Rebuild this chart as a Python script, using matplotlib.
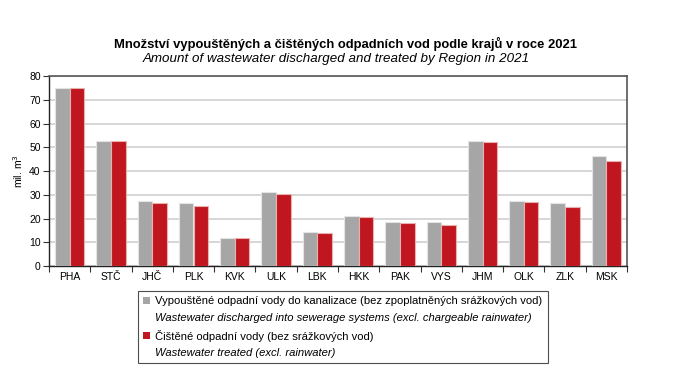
import matplotlib
matplotlib.use("Agg")
import matplotlib.pyplot as plt
import numpy as np
from matplotlib.patches import Patch

plt.rcParams['font.family'] = ['Liberation Sans', 'DejaVu Sans']

regions = ["PHA", "STČ", "JHČ", "PLK", "KVK", "ULK", "LBK", "HKK", "PAK", "VYS", "JHM", "OLK", "ZLK", "MSK"]
discharged = [74.9, 52.5, 27.4, 26.4, 11.9, 31.2, 14.5, 21.0, 18.4, 18.4, 52.8, 27.4, 26.7, 46.5]
treated = [75.0, 52.5, 26.4, 25.3, 12.0, 30.2, 14.1, 20.5, 18.0, 17.1, 52.2, 27.1, 24.9, 44.2]

title_cz = "Množství vypouštěných a čištěných odpadních vod podle krajů v roce 2021"
title_en = "Amount of wastewater discharged and treated by Region in 2021"
label_dis_cz = "Vypouštěné odpadní vody do kanalizace (bez zpoplatněných srážkových vod)"
label_dis_en = "Wastewater discharged into sewerage systems (excl. chargeable rainwater)"
label_tr_cz = "Čištěné odpadní vody (bez srážkových vod)"
label_tr_en = "Wastewater treated (excl. rainwater)"

c_gray = "#a6a6a6"
c_red = "#c0161f"

fig = plt.figure(figsize=(6.74, 3.92), dpi=100)
ax = fig.add_axes([49/674, 1-266/392, (627-49)/674, 190/392])

x = np.arange(len(regions))
w = 0.355
ax.bar(x - w/2, discharged, w, color=c_gray, edgecolor="#e4e4e4", linewidth=0.8, zorder=3)
ax.bar(x + w/2, treated, w, color=c_red, edgecolor="#e8b0b0", linewidth=0.8, zorder=3)

ax.set_xlim(-0.5, len(regions) - 0.5)
ax.set_ylim(0, 80)
ax.set_yticks(np.arange(0, 81, 10))
ax.yaxis.grid(True, color="#cfcfcf", linewidth=1.2, zorder=0)
ax.set_axisbelow(True)

ax.set_xticks(x)
ax.set_xticklabels(regions, fontsize=7.5)
ax.set_xticks(np.arange(-0.5, len(regions), 1), minor=True)
ax.tick_params(axis='x', which='major', length=0, pad=4)
ax.tick_params(axis='x', which='minor', length=4, color="#333333", width=0.8)
ax.tick_params(axis='y', labelsize=7.5, length=4, color="#333333", width=0.8, pad=2)

for s in ["left", "bottom"]:
    ax.spines[s].set_color("#222222")
    ax.spines[s].set_linewidth(1.0)
for s in ["top", "right"]:
    ax.spines[s].set_color("#555555")
    ax.spines[s].set_linewidth(1.2)

ax.set_ylabel("mil. m$^3$", fontsize=7.5, labelpad=3)

fig.text(346/674, 1-44/392, title_cz, ha="center", va="center", fontsize=9.4, fontweight="bold")
fig.text(143/674, 1-59/392, title_en, ha="left", va="center", fontsize=9.6, style="italic")

handles = [Patch(facecolor=c_gray, edgecolor="none"),
           Patch(facecolor="none", edgecolor="none"),
           Patch(facecolor=c_red, edgecolor="none"),
           Patch(facecolor="none", edgecolor="none")]
labels = [label_dis_cz, label_dis_en, label_tr_cz, label_tr_en]
leg = fig.legend(handles, labels, loc="upper left", bbox_to_anchor=(138/674, 1-291/392),
                 fontsize=8.1, frameon=True, fancybox=False, edgecolor="#222222",
                 handlelength=0.6, handleheight=0.6, handletextpad=0.5,
                 labelspacing=0.6, borderpad=0.45, borderaxespad=0)
leg.get_frame().set_linewidth(0.8)
for i, t in enumerate(leg.get_texts()):
    if i in (1, 3):
        t.set_style("italic")

fig.savefig("out.png", dpi=100)
